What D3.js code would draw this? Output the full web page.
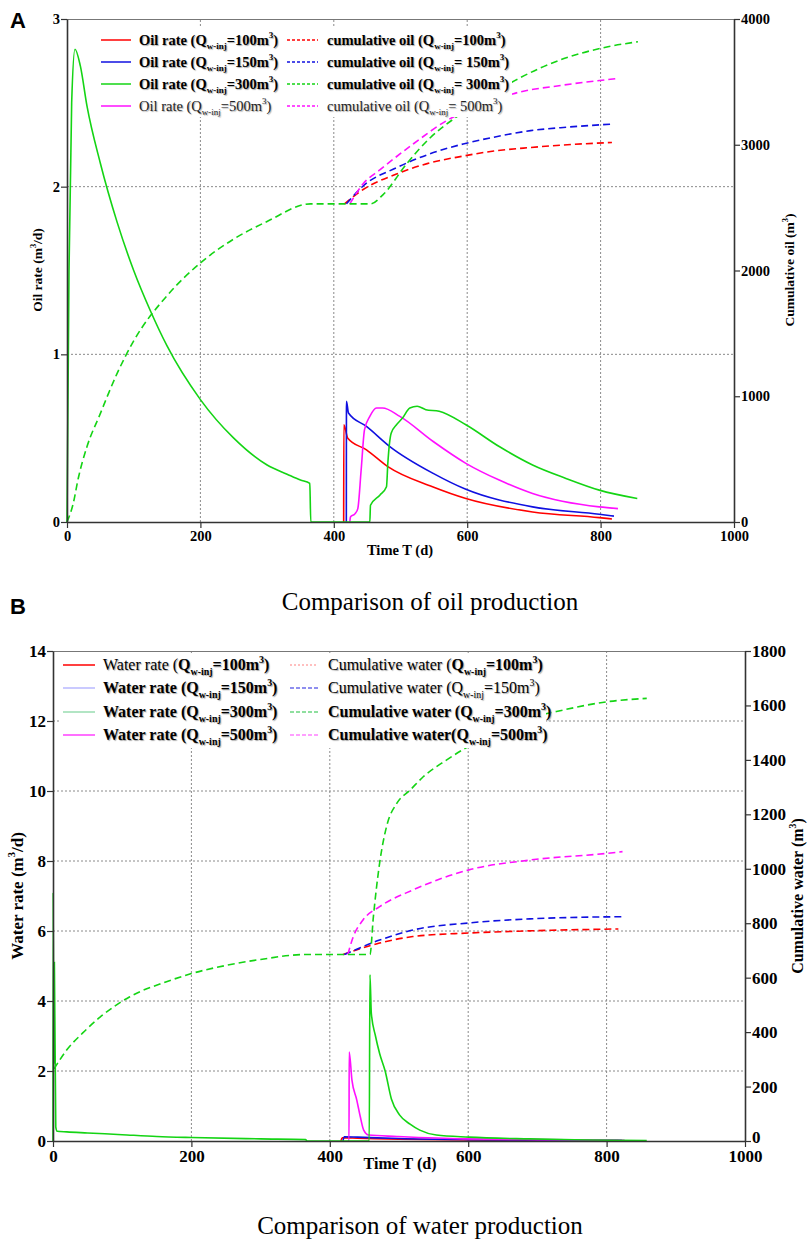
<!DOCTYPE html>
<html><head><meta charset="utf-8">
<script src="https://cdn.jsdelivr.net/npm/d3@7"></script>
<style>
body{margin:0;background:#fff;}
svg{display:block;}
.lg text{text-shadow:1px 1px 1px #aaa;}
</style></head>
<body><svg id="c" width="807" height="1242"></svg>
<script>
// ---------- DATA (time in days, values) ----------
const xTicks = [0,200,400,600,800,1000];
const oilTicksL = [0,1,2,3];
const oilTicksR = [0,1000,2000,3000,4000];
const waterTicksL = [0,2,4,6,8,10,12,14];
const waterTicksR = [0,200,400,600,800,1000,1200,1400,1600,1800];
const injLabels = ["100","150","300","500"];

// Oil rate (m3/d)
const oilRate100 = [[414.8,0],[415,0.58],[421,0.5],[449,0.43],[481,0.33],[548,0.21],[598,0.14],[698,0.06],[798,0.026],[817,0.018]];
const oilRate150 = [[418.8,0],[419,0.72],[422,0.65],[449,0.57],[484,0.45],[549,0.29],[598,0.195],[698,0.09],[798,0.046],[820,0.035]];
const oilRate300 = [[0,0],[3,1.5],[7,2.5],[12,2.82],[20,2.72],[30,2.48],[50,2.14],[75,1.79],[100,1.5],[125,1.26],[150,1.05],[200,0.73],[250,0.5],[300,0.34],[330,0.285],[350,0.25],[364,0.23],[365.5,0],[454,0],[455,0.1],[469,0.16],[479,0.21],[481,0.35],[486,0.53],[494,0.58],[503,0.62],[514,0.68],[525,0.69],[538,0.67],[558,0.66],[598,0.58],[648,0.45],[698,0.34],[748,0.26],[798,0.19],[855,0.14]];
const oilRate500 = [[424,0],[425,0.03],[432,0.05],[436,0.08],[441,0.31],[446,0.55],[454,0.63],[464,0.68],[473,0.68],[499,0.63],[549,0.48],[598,0.35],[648,0.25],[698,0.17],[798,0.09],[826,0.08]];
// Cumulative oil (m3)
const cumOil100 = [[416,2530],[444,2644],[494,2767],[540,2850],[594,2910],[640,2950],[695,2978],[750,3000],[817,3018]];
const cumOil150 = [[419,2530],[444,2672],[494,2817],[540,2920],[594,3006],[640,3060],[695,3112],[750,3140],[820,3165]];
const cumOil300 = [[0,0],[9,140],[17,350],[30,600],[49,850],[75,1180],[100,1440],[150,1800],[200,2060],[250,2250],[300,2390],[365,2530],[455,2530],[474,2604],[509,2847],[545,3058],[583,3218],[630,3380],[672,3512],[745,3685],[811,3779],[856,3819]];
const cumOil500 = [[424,2530],[444,2690],[469,2800],[519,3006],[569,3191],[620,3310],[668,3404],[745,3475],[823,3525]];

// Water rate (m3/d)
const waterRate100 = [[416,0],[418,0.09],[440,0.08],[500,0.05],[600,0.03],[700,0.02],[817,0.01]];
const waterRate150 = [[419,0],[421,0.12],[440,0.11],[500,0.07],[600,0.04],[700,0.03],[822,0.02]];
const waterRate300 = [[0,0],[0.3,7.1],[1,2.2],[2,5.1],[4,0.4],[6,0.28],[20,0.26],[50,0.23],[100,0.18],[150,0.13],[200,0.1],[300,0.06],[365,0.04],[367,0],[457,0],[458,4.75],[460,3.65],[466,3.0],[472,2.5],[480,2.0],[489,1.2],[501,0.74],[516,0.48],[530,0.31],[554,0.17],[601,0.11],[689,0.06],[780,0.03],[858,0.01]];
const waterRate500 = [[426,0],[427.8,0],[428,2.54],[432,1.74],[439,1.17],[444,0.7],[449,0.31],[456,0.17],[497,0.13],[593,0.06],[700,0.04],[826,0.02]];
// Cumulative water (m3)
const cumWater100 = [[419,685],[472,727],[520,751],[601,764],[689,772],[817,779]];
const cumWater150 = [[421,685],[472,738],[520,775],[601,801],[689,816],[822,824]];
const cumWater300 = [[1.5,265],[20,335],[43,397],[68,455],[111,530],[164,585],[200,615],[250,645],[300,667],[365,685],[458,685],[463,824],[472,1021],[482,1155],[497,1241],[516,1289],[535,1338],[569,1400],[600,1449],[650,1510],[697,1559],[737,1583],[802,1614],[858,1626]];
const cumWater500 = [[426,685],[434,751],[448,812],[472,861],[520,922],[601,996],[689,1032],[802,1057],[823,1063]];

// ---------- DRAW ----------
const svg = d3.select("#c");
const COL = {r:"#ff0000", b:"#1010e0", g:"#14d414", m:"#ff10ff"};
const SER = "'Liberation Serif','Times New Roman',serif";

function panel(o){
  const g = svg.append("g");
  const x = d3.scaleLinear([0,1000],[o.x0,o.x1]);
  const yL = d3.scaleLinear([0,o.yLmax],[o.y0,o.y1]);
  const yR = d3.scaleLinear([0,o.yRmax],[o.y0,o.y1]);
  const grid = g.append("g").attr("stroke","#8a8a8a").attr("stroke-dasharray","2,2").attr("stroke-width",1);
  xTicks.slice(1,-1).forEach(t=>grid.append("line").attr("x1",x(t)).attr("x2",x(t)).attr("y1",o.y0).attr("y2",o.y1));
  o.gridY.forEach(t=>grid.append("line").attr("x1",o.x0).attr("x2",o.x1).attr("y1",yL(t)).attr("y2",yL(t)));
  g.append("line").attr("x1",o.x0).attr("x2",o.x1).attr("y1",o.y1+0.5).attr("y2",o.y1+0.5).attr("stroke","#777").attr("stroke-width",1);
  const lineL = d3.line().curve(d3.curveMonotoneX).x(d=>x(d[0])).y(d=>yL(d[1]));
  const lineR = d3.line().curve(d3.curveMonotoneX).x(d=>x(d[0])).y(d=>yR(d[1]));
  o.cum.forEach(s=>g.append("path").attr("d",lineR(s.data)).attr("fill","none").attr("stroke",s.c).attr("stroke-width",1.6).attr("stroke-dasharray","7,4"));
  o.rate.forEach(s=>g.append("path").attr("d",lineL(s.data)).attr("fill","none").attr("stroke",s.c).attr("stroke-width",1.6));
  const fs = o.fs, fmt = d3.format("d");
  const ax = g.append("g").attr("transform",`translate(0,${o.y0})`).call(d3.axisBottom(x).tickValues(xTicks).tickFormat(fmt).tickSize(6).tickSizeOuter(0));
  const al = g.append("g").attr("transform",`translate(${o.x0},0)`).call(d3.axisLeft(yL).tickValues(o.ticksL).tickFormat(fmt).tickSize(6).tickSizeOuter(0));
  const ar = g.append("g").attr("transform",`translate(${o.x1},0)`).call(d3.axisRight(yR).tickValues(o.ticksR).tickFormat(fmt).tickSize(6).tickSizeOuter(0));
  [ax,al,ar].forEach(a=>{
    a.attr("font-family",SER).attr("font-size",fs);
    a.select(".domain").attr("stroke","#333").attr("stroke-width",1.6);
    a.selectAll(".tick line").attr("stroke","#333").attr("stroke-width",1.2);
    a.selectAll("text").style("font-family",SER).attr("font-weight","bold").attr("font-size",fs).attr("fill","#000");
  });
  ax.selectAll("text").attr("dy",null).attr("y",6+fs*0.9);
  al.selectAll("text").attr("x",-7);
  ar.selectAll("text").attr("x",7);
  if(o.lowZero) ar.selectAll(".tick").filter(d=>d===0).select("text").attr("dy","0.1em");
  return {g,x,yL,yR};
}

function richText(sel, parts, size){
  parts.forEach(p=>{
    const t = sel.append("tspan").text(p[0]);
    if(p[2]!==undefined) t.attr("font-weight",p[2]?"bold":"normal");
    if(p[1]==="sub"){ t.attr("font-size",size*0.62).attr("dy",size*0.3); }
    else if(p[1]==="sup"){ t.attr("font-size",size*0.62).attr("dy",-size*0.45); }
    else if(p[1]==="after-sub"){ t.attr("dy",-size*0.3); }
    else if(p[1]==="after-sup"){ t.attr("dy",size*0.45); }
  });
}
function qParts(prefix, eq, val, bPrefix, bRest){
  return [[prefix,"",bPrefix],["Q","",bRest],["w-inj","sub",bRest],[eq+val+"m","after-sub",bRest],["3","sup",bRest],[")","after-sup",bRest]];
}

// ===== Panel A =====
const A = panel({x0:67,x1:734,y0:522,y1:19,yLmax:3,yRmax:4000,ticksL:oilTicksL,ticksR:oilTicksR,gridY:[1,2],fs:14.5,lowZero:false,
  rate:[{data:oilRate100,c:COL.r},{data:oilRate150,c:COL.b},{data:oilRate500,c:COL.m},{data:oilRate300,c:COL.g}],
  cum:[{data:cumOil100,c:COL.r},{data:cumOil150,c:COL.b},{data:cumOil500,c:COL.m},{data:cumOil300,c:COL.g}]});

{
  const lg = A.g.append("g").attr("class","lg");
  lg.append("rect").attr("x",94).attr("y",28).attr("width",418).attr("height",89).attr("fill","#fff");
  const cols = [COL.r,COL.b,COL.g,COL.m];
  const rowsY = [40,62,84,106];
  const fs = 14.5;
  injLabels.forEach((v,i)=>{
    const y = rowsY[i], bold = i<3;
    lg.append("line").attr("x1",101).attr("x2",131).attr("y1",y).attr("y2",y).attr("stroke",cols[i]).attr("stroke-width",1.5);
    lg.append("line").attr("x1",287).attr("x2",318).attr("y1",y).attr("y2",y).attr("stroke",cols[i]).attr("stroke-width",1.3).attr("stroke-dasharray","3,2");
    const t1 = lg.append("text").attr("x",139).attr("y",y+4.5).style("font-family",SER).attr("font-size",fs).attr("font-weight",bold?"bold":"normal").attr("fill",bold?"#000":"#222");
    richText(t1, qParts("Oil rate (","=",v,bold,bold),fs);
    const t2 = lg.append("text").attr("x",327).attr("y",y+4.5).style("font-family",SER).attr("font-size",fs).attr("font-weight",bold?"bold":"normal").attr("fill",bold?"#000":"#222");
    richText(t2, qParts(i===3?"cumulative oil  (":"cumulative oil (", i===0?"=":"= ", v,bold,bold),fs);
  });
}
svg.append("text").attr("x",10).attr("y",28).style("font-family","'Liberation Sans',Arial,sans-serif").attr("font-weight","bold").attr("font-size",22).text("A");
{
  const t = svg.append("text").attr("transform","translate(42,270) rotate(-90)").attr("text-anchor","middle").style("font-family",SER).attr("font-weight","bold").attr("font-size",13.5);
  richText(t,[["Oil rate (m",""],["3","sup"],["/d)","after-sup"]],13.5);
  const t2 = svg.append("text").attr("transform","translate(794,270) rotate(-90)").attr("text-anchor","middle").style("font-family",SER).attr("font-weight","bold").attr("font-size",13.5);
  richText(t2,[["Cumulative oil (m",""],["3","sup"],[")","after-sup"]],13.5);
  svg.append("text").attr("x",400).attr("y",555).attr("text-anchor","middle").style("font-family",SER).attr("font-weight","bold").attr("font-size",14.5).text("Time T (d)");
  svg.append("text").attr("x",430).attr("y",610).attr("text-anchor","middle").style("font-family",SER).attr("font-size",25).text("Comparison of oil production");
}

// ===== Panel B =====
const B = panel({x0:53,x1:745,y0:1141,y1:651,yLmax:14,yRmax:1800,ticksL:waterTicksL,ticksR:waterTicksR,gridY:[2,4,6,8,10,12],fs:17,lowZero:true,
  rate:[{data:waterRate100,c:COL.r},{data:waterRate150,c:COL.b},{data:waterRate500,c:COL.m},{data:waterRate300,c:COL.g}],
  cum:[{data:cumWater100,c:COL.r},{data:cumWater150,c:COL.b},{data:cumWater500,c:COL.m},{data:cumWater300,c:COL.g}]});
{
  const lg = B.g.append("g").attr("class","lg");
  lg.append("rect").attr("x",60).attr("y",653).attr("width",486).attr("height",95).attr("fill","#fff");
  const rateCols = ["#ff0000","#b8b8ff","#98dcb0","#ff40ff"];
  const cumCols = ["#ff8080","#2020e0","#20c040","#ff40ff"];
  const rowsY = [665,688,712,735];
  const fs = 16;
  injLabels.forEach((v,i)=>{
    const y = rowsY[i];
    lg.append("line").attr("x1",63).attr("x2",95).attr("y1",y).attr("y2",y).attr("stroke",rateCols[i]).attr("stroke-width",1.5);
    lg.append("line").attr("x1",290).attr("x2",318).attr("y1",y).attr("y2",y).attr("stroke",cumCols[i]).attr("stroke-width",1.2).attr("stroke-dasharray",i===0?"2,2":"4,2");
    const t1 = lg.append("text").attr("x",103).attr("y",y+5).style("font-family",SER).attr("font-size",fs).attr("font-weight","bold");
    richText(t1, qParts("Water rate (","=",v,i!==0,true),fs);
    const t2 = lg.append("text").attr("x",328).attr("y",y+5).style("font-family",SER).attr("font-size",fs).attr("font-weight","bold");
    richText(t2, qParts(i===3?"Cumulative water(":"Cumulative water (","=",v,i>=2,i!==1),fs);
  });
}
svg.append("text").attr("x",10).attr("y",614).style("font-family","'Liberation Sans',Arial,sans-serif").attr("font-weight","bold").attr("font-size",22).text("B");
{
  const t = svg.append("text").attr("transform","translate(23,896) rotate(-90)").attr("text-anchor","middle").style("font-family",SER).attr("font-weight","bold").attr("font-size",17);
  richText(t,[["Water rate (m",""],["3","sup"],["/d)","after-sup"]],17);
  const t2 = svg.append("text").attr("transform","translate(803,896) rotate(-90)").attr("text-anchor","middle").style("font-family",SER).attr("font-weight","bold").attr("font-size",16);
  richText(t2,[["Cumulative water (m",""],["3","sup"],[")","after-sup"]],16);
  svg.append("text").attr("x",400).attr("y",1169).attr("text-anchor","middle").style("font-family",SER).attr("font-weight","bold").attr("font-size",16).text("Time T (d)");
  svg.append("text").attr("x",420).attr("y",1234).attr("text-anchor","middle").style("font-family",SER).attr("font-size",25).text("Comparison of water production");
}
</script></body></html>
